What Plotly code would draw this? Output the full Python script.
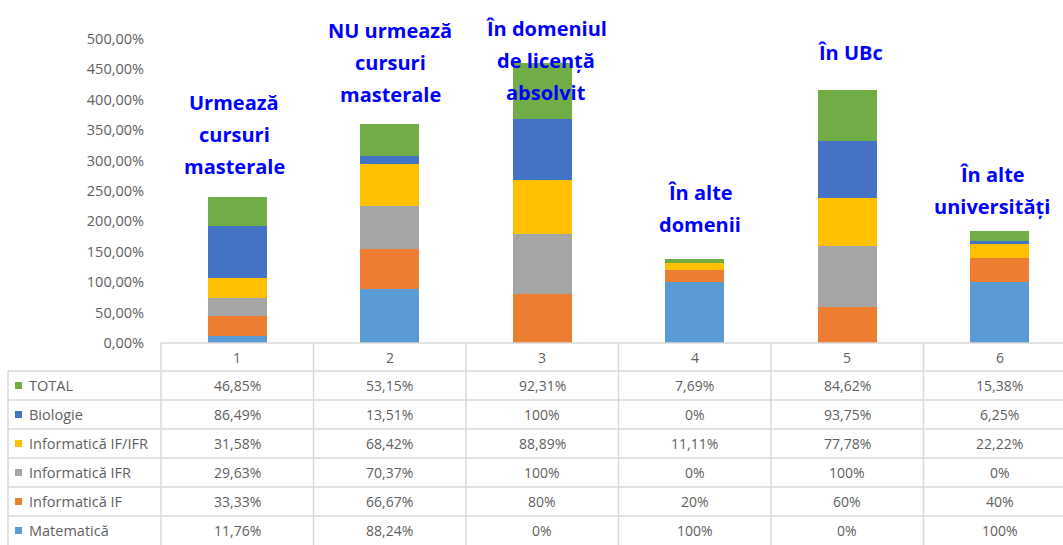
import plotly.graph_objects as go

W, H = 1063, 545

categories = [1, 2, 3, 4, 5, 6]
series_names = ["Matematică", "Informatică IF", "Informatică IFR", "Informatică IF/IFR", "Biologie", "TOTAL"]
matematica = [11.76, 88.24, 0, 100, 0, 100]
informatica_if = [33.33, 66.67, 80, 20, 60, 40]
informatica_ifr = [29.63, 70.37, 100, 0, 100, 0]
informatica_if_ifr = [31.58, 68.42, 88.89, 11.11, 77.78, 22.22]
biologie = [86.49, 13.51, 100, 0, 93.75, 6.25]
total = [46.85, 53.15, 92.31, 7.69, 84.62, 15.38]
colors = ["#5B9BD5", "#ED7D31", "#A5A5A5", "#FFC000", "#4472C4", "#70AD47"]
bar_labels = [
    ["Urmează", "cursuri", "masterale"],
    ["NU urmează", "cursuri", "masterale"],
    ["În domeniul", "de licență", "absolvit"],
    ["În alte", "domenii"],
    ["În UBc"],
    ["În alte", "universități"],
]
tick_vals = [0, 50, 100, 150, 200, 250, 300, 350, 400, 450, 500]
tick_text = ["0,00%", "50,00%", "100,00%", "150,00%", "200,00%", "250,00%",
             "300,00%", "350,00%", "400,00%", "450,00%", "500,00%"]

all_series = [matematica, informatica_if, informatica_ifr, informatica_if_ifr, biologie, total]

FONT = "Open Sans"
GREY = "#5f5f5f"
LINE = "#D9D9D9"

label_x = [234, 390, 546, 700, 850, 992]
label_y = [102, 30, 28, 193, 53, 174]
LINE_H = 32


def px_x(p):
    return p / W


def px_y(p):
    return 1 - p / H


def fmt(v):
    if abs(v - round(v)) < 1e-9:
        return f"{int(round(v))}%"
    return f"{v:.2f}".replace(".", ",") + "%"


fig = go.Figure()
for name, vals, col in zip(series_names, all_series, colors):
    fig.add_trace(go.Bar(x=categories, y=vals, name=name, marker_color=col,
                         marker_line_width=0, width=0.39))

plot_left = 161
cat_w = 152.5
x_max = 0.5 + (W - plot_left) / cat_w
y0_px, y500_px = 343, 39

shapes = []
annotations = []

row_tops = [371, 400, 429, 458, 487, 516]
shapes.append(dict(type="line", xref="paper", yref="paper", x0=px_x(plot_left), x1=1,
                   y0=px_y(343), y1=px_y(343), line=dict(color=LINE, width=1.5)))
for yp in row_tops:
    shapes.append(dict(type="line", xref="paper", yref="paper", x0=px_x(8), x1=1,
                       y0=px_y(yp), y1=px_y(yp), line=dict(color=LINE, width=1.5)))
shapes.append(dict(type="line", xref="paper", yref="paper", x0=px_x(8), x1=px_x(8),
                   y0=px_y(371), y1=0, line=dict(color=LINE, width=1.5)))
shapes.append(dict(type="line", xref="paper", yref="paper", x0=px_x(plot_left), x1=px_x(plot_left),
                   y0=px_y(343), y1=0, line=dict(color=LINE, width=1.5)))
for c in categories:
    shapes.append(dict(type="line", xref="x", yref="paper", x0=c + 0.5, x1=c + 0.5,
                       y0=px_y(343), y1=0, line=dict(color=LINE, width=1.5)))

for c in categories:
    annotations.append(dict(x=c, y=px_y(357), xref="x", yref="paper", text=str(c),
                            showarrow=False, xanchor="center", yanchor="middle",
                            font=dict(family=FONT, size=14, color=GREY)))

row_order = list(range(len(series_names)))[::-1]
for r, si in enumerate(row_order):
    top = row_tops[r]
    cy = top + 14.5
    annotations.append(dict(x=px_x(27), y=px_y(cy), xref="paper", yref="paper",
                            text=series_names[si], showarrow=False, xanchor="left", yanchor="middle",
                            font=dict(family=FONT, size=14.5, color=GREY)))
    shapes.append(dict(type="rect", xref="paper", yref="paper", x0=px_x(15), x1=px_x(22),
                       y0=px_y(cy + 3.5), y1=px_y(cy - 3.5), fillcolor=colors[si], line_width=0))
    for c, v in zip(categories, all_series[si]):
        annotations.append(dict(x=c, y=px_y(cy), xref="x", yref="paper", text=fmt(v),
                                showarrow=False, xanchor="center", yanchor="middle",
                                font=dict(family=FONT, size=14, color=GREY)))

for lines, lx, ly in zip(bar_labels, label_x, label_y):
    for i, t in enumerate(lines):
        annotations.append(dict(x=px_x(lx), y=px_y(ly + i * LINE_H), xref="paper", yref="paper",
                                text=f"<b>{t}</b>", showarrow=False, xanchor="center",
                                yanchor="middle",
                                font=dict(family=FONT, size=20, color="#0000FF")))

fig.update_layout(
    width=W, height=H,
    margin=dict(l=0, r=0, t=0, b=0),
    paper_bgcolor="white", plot_bgcolor="white",
    barmode="stack", bargap=0,
    showlegend=False,
    hovermode=False,
    xaxis=dict(domain=[px_x(plot_left), 1], range=[0.5, x_max], showticklabels=False,
               showgrid=False, zeroline=False, showline=False, fixedrange=True,
               automargin=False),
    yaxis=dict(domain=[px_y(y0_px), px_y(y500_px)], range=[0, 500], tickvals=tick_vals,
               ticktext=tick_text, showgrid=False, zeroline=False, showline=False,
               tickfont=dict(family=FONT, size=14.5, color=GREY), ticks="",
               ticklabelstandoff=16, automargin=False, fixedrange=True),
    shapes=shapes,
    annotations=annotations,
)

fig.write_html("out.html", config={"displayModeBar": False, "staticPlot": True},
               post_script="document.body.style.margin='0';document.body.style.overflow='hidden';")
